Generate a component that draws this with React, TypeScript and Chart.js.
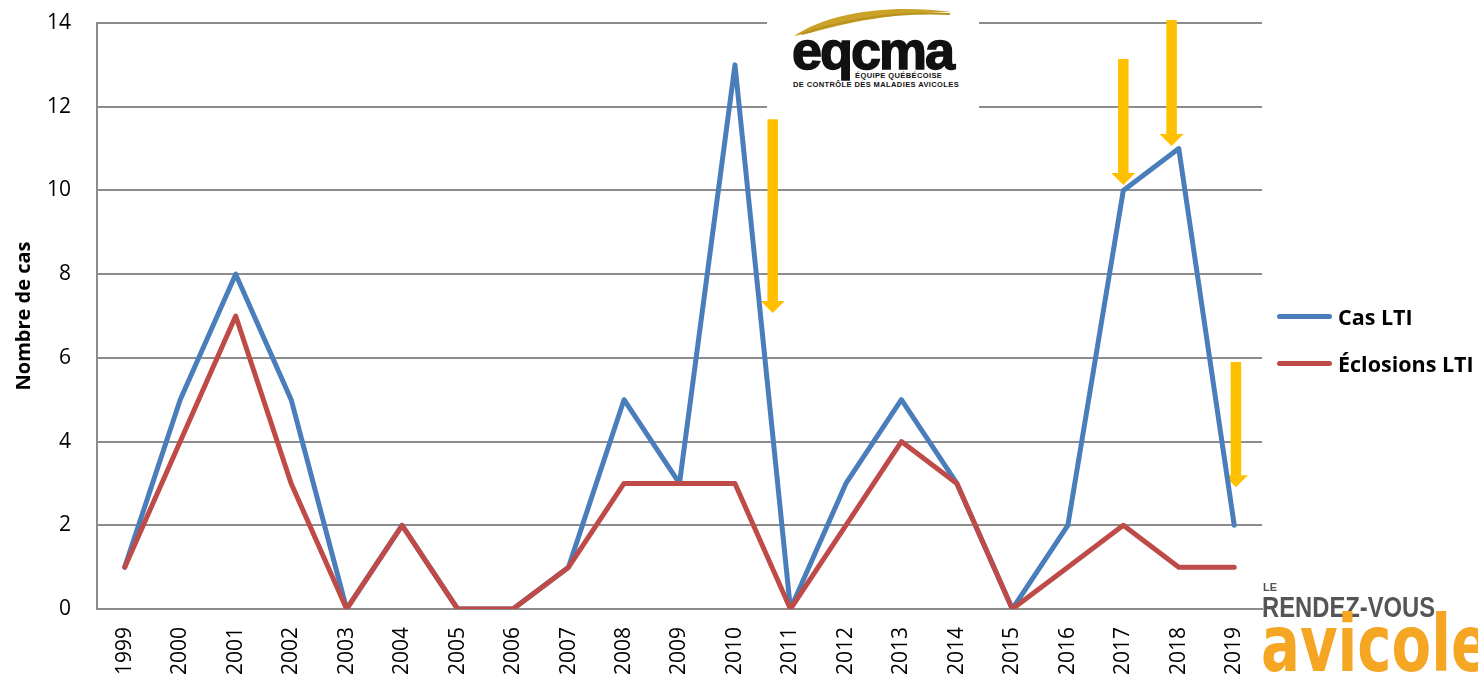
import React, { useEffect, useRef } from "react";
import { Chart, registerables } from "chart.js";

Chart.register(...registerables);

// ---- Data ----
const years = [
  "1999", "2000", "2001", "2002", "2003", "2004", "2005", "2006", "2007", "2008",
  "2009", "2010", "2011", "2012", "2013", "2014", "2015", "2016", "2017", "2018", "2019",
];
const casLTI = [1, 5, 8, 5, 0, 2, 0, 0, 1, 5, 3, 13, 0, 3, 5, 3, 0, 2, 10, 11, 2];
const eclosionsLTI = [1, 4, 7, 3, 0, 2, 0, 0, 1, 3, 3, 3, 0, 2, 4, 3, 0, 1, 2, 1, 1];
const seriesNames = ["Cas LTI", "Éclosions LTI"];
const yMin = 0;
const yMax = 14;
const yStep = 2;
const yTitle = "Nombre de cas";

// Yellow annotation arrows, in data units (category index, value at top, value at tip)
const arrowX = [11.68, 18.0, 18.87, 20.03];
const arrowTop = [11.7, 13.14, 14.07, 5.9];
const arrowTip = [7.07, 10.13, 11.06, 2.91];

const BLUE = "#4A7EBB";
const RED = "#BE4B48";
const GRID = "#8c8c8c";
const ARROW = "#FFC000";
const FONT = "'Open Sans', 'Noto Sans', sans-serif";

const W = 1478;
const H = 681;

const arrowPlugin = {
  id: "arrows",
  beforeDatasetsDraw(chart: any) {
    const { ctx, scales } = chart;
    const x = scales.x;
    const y = scales.y;
    ctx.save();
    ctx.fillStyle = ARROW;
    for (let i = 0; i < arrowX.length; i++) {
      const cx = x.getPixelForValue(arrowX[i]);
      const top = y.getPixelForValue(arrowTop[i]);
      const tip = y.getPixelForValue(arrowTip[i]);
      const headLen = 12;
      const shaftW = 10.5;
      const headW = 24;
      ctx.fillRect(cx - shaftW / 2, top, shaftW, tip - headLen - top + 0.5);
      ctx.beginPath();
      ctx.moveTo(cx - headW / 2, tip - headLen);
      ctx.lineTo(cx + headW / 2, tip - headLen);
      ctx.lineTo(cx, tip);
      ctx.closePath();
      ctx.fill();
    }
    ctx.restore();
  },
};

export default function App() {
  const ref = useRef<HTMLCanvasElement>(null);

  useEffect(() => {
    if (!ref.current) return;
    const chart = new Chart(ref.current, {
      type: "line",
      data: {
        labels: years,
        datasets: [
          {
            label: seriesNames[0],
            data: casLTI,
            borderColor: BLUE,
            backgroundColor: BLUE,
            borderWidth: 5,
            pointRadius: 0,
            tension: 0,
            borderCapStyle: "round",
            borderJoinStyle: "round",
            order: 2,
          },
          {
            label: seriesNames[1],
            data: eclosionsLTI,
            borderColor: RED,
            backgroundColor: RED,
            borderWidth: 5,
            pointRadius: 0,
            tension: 0,
            borderCapStyle: "round",
            borderJoinStyle: "round",
            order: 1,
          },
        ],
      },
      options: {
        responsive: false,
        animation: false,
        events: [],
        layout: { padding: { top: 23, right: 216, left: 0, bottom: 0 } },
        plugins: {
          legend: { display: false },
          tooltip: { enabled: false },
        },
        scales: {
          x: {
            type: "category",
            offset: true,
            grid: { display: false, drawTicks: false },
            border: { display: true, color: GRID, width: 2 },
            ticks: {
              minRotation: 90,
              maxRotation: 90,
              autoSkip: false,
              padding: 18,
              color: "#000",
              font: { family: FONT, size: 21 },
            },
            afterFit: (s: any) => {
              s.height = 72;
            },
          },
          y: {
            min: yMin,
            max: yMax,
            grid: { color: GRID, lineWidth: 2, drawTicks: false },
            border: { display: true, color: GRID, width: 2 },
            ticks: {
              stepSize: yStep,
              padding: 26,
              color: "#000",
              font: { family: FONT, size: 21 },
            },
            title: {
              display: true,
              text: yTitle,
              color: "#000",
              padding: { top: 12, bottom: 0 },
              font: { family: FONT, size: 20, weight: "bold" },
            },
            afterFit: (s: any) => {
              s.width = 97;
              s.paddingTop = 0;
              s.paddingBottom = 0;
            },
          },
        },
      },
      plugins: [arrowPlugin],
    });
    return () => chart.destroy();
  }, []);

  const legendItem = (name: string, color: string, top: number) => (
    <div
      style={{
        position: "absolute",
        left: 1277,
        top: top - 15,
        height: 30,
        display: "flex",
        alignItems: "center",
        whiteSpace: "nowrap",
      }}
    >
      <div
        style={{
          width: 55,
          height: 5,
          borderRadius: 3,
          background: color,
          marginRight: 6,
        }}
      />
      <span
        style={{
          fontFamily: FONT,
          fontWeight: 700,
          fontSize: 21.5,
          color: "#000",
        }}
      >
        {name}
      </span>
    </div>
  );

  return (
    <div
      style={{
        position: "absolute",
        left: 0,
        top: 0,
        width: W,
        height: H,
        overflow: "hidden",
        background: "#fff",
      }}
    >
      <canvas ref={ref} width={W} height={H} style={{ display: "block", position: "absolute", left: 0, top: 0 }} />

      {legendItem(seriesNames[0], BLUE, 316)}
      {legendItem(seriesNames[1], RED, 363)}

      {/* eqcma logo */}
      <div
        style={{
          position: "absolute",
          left: 767,
          top: 0,
          width: 212,
          height: 114,
          background: "#fff",
        }}
      >
        <svg width={212} height={40} style={{ position: "absolute", left: 0, top: 0 }}>
          <path d="M27 36 C 63 12, 123 4, 185 12 C 153 12, 103 16, 43 33 Z" fill="#C9A227" />
          <path d="M35 34 C 83 18, 133 12, 183 14" stroke="#B8921E" strokeWidth={2} fill="none" />
        </svg>
        <div
          style={{
            position: "absolute",
            left: 25,
            top: 20,
            fontFamily: "'Liberation Sans', Arial, sans-serif",
            fontWeight: 900,
            fontSize: 54,
            letterSpacing: -2,
            color: "#111",
            lineHeight: "60px",
            WebkitTextStroke: "1.5px #111",
          }}
        >
          eqcma
        </div>
        <div
          style={{
            position: "absolute",
            left: 88,
            top: 71,
            background: "#fff",
            fontFamily: "'Liberation Sans', Arial, sans-serif",
            fontWeight: 700,
            fontSize: 7.5,
            letterSpacing: 0.4,
            color: "#111",
            whiteSpace: "nowrap",
          }}
        >
          ÉQUIPE QUÉBÉCOISE
        </div>
        <div
          style={{
            position: "absolute",
            left: 26,
            top: 80,
            fontFamily: "'Liberation Sans', Arial, sans-serif",
            fontWeight: 700,
            fontSize: 7.5,
            letterSpacing: 0.4,
            color: "#111",
            whiteSpace: "nowrap",
          }}
        >
          DE CONTRÔLE DES MALADIES AVICOLES
        </div>
      </div>

      {/* Le Rendez-vous avicole logo */}
      <div
        style={{
          position: "absolute",
          left: 1263,
          top: 581,
          fontFamily: "'Liberation Sans', Arial, sans-serif",
          fontWeight: 700,
          fontSize: 11,
          color: "#555",
        }}
      >
        LE
      </div>
      <div
        style={{
          position: "absolute",
          left: 1262,
          top: 590,
          fontFamily: "'Liberation Sans', Arial, sans-serif",
          fontWeight: 700,
          fontSize: 29,
          lineHeight: "34px",
          color: "#555",
          whiteSpace: "nowrap",
          transform: "scaleX(0.82)",
          transformOrigin: "left top",
        }}
      >
        RENDEZ-VOUS
      </div>
      <div
        style={{
          position: "absolute",
          left: 1261,
          top: 605,
          fontFamily: "'DejaVu Sans', sans-serif",
          fontWeight: 900,
          fontSize: 78,
          lineHeight: "78px",
          color: "#F5A623",
          whiteSpace: "nowrap",
          transform: "scaleX(0.74)",
          transformOrigin: "left top",
        }}
      >
        avicole
      </div>
    </div>
  );
}
